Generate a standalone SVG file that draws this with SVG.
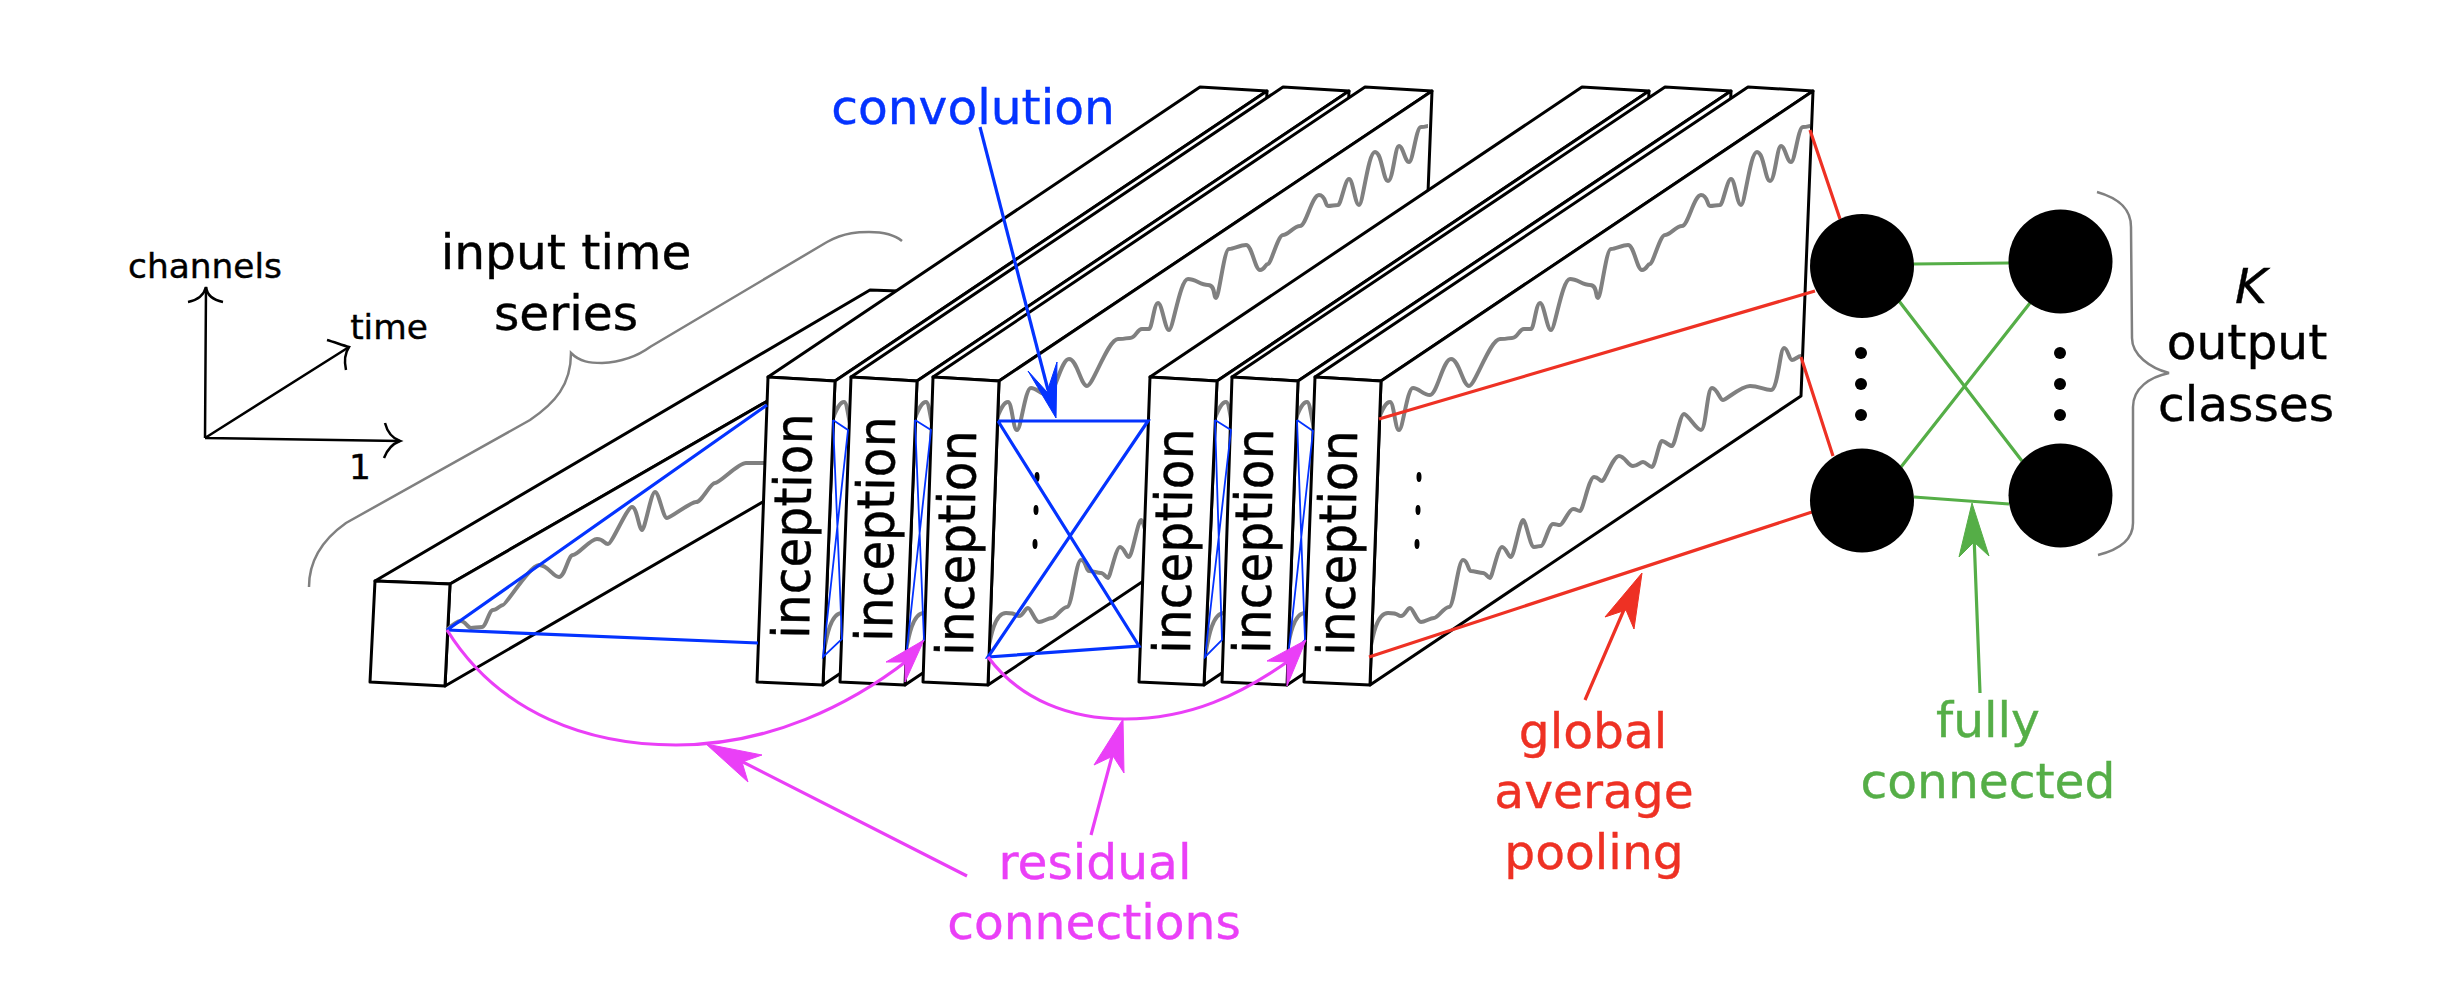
<svg xmlns="http://www.w3.org/2000/svg" width="2459" height="992" viewBox="0 0 2459 992">
<style>
text{font-family:"DejaVu Sans",sans-serif;font-size:48.700px;fill:#000;stroke:#000;stroke-width:.4;text-anchor:middle}
.ax{font-size:34.400px}
.st{text-anchor:start}
.b{fill:#fff;stroke:#000;stroke-width:3;stroke-linejoin:round}
.w{fill:none;stroke:#808080;stroke-width:4;stroke-linejoin:round}
.g{fill:none;stroke:#808080;stroke-width:2.500}
.k{fill:none;stroke:#000;stroke-width:2.500}
.blue{fill:none;stroke:#0433ff;stroke-width:3.200}
.blt{fill:none;stroke:#0433ff;stroke-width:1.800}
.red{fill:none;stroke:#ee3124;stroke-width:3.200}
.grn{fill:none;stroke:#55ae47;stroke-width:3.200}
.mag{fill:none;stroke:#ea3ff7;stroke-width:3.200}
.fb{fill:#0433ff;stroke:#0433ff}.fr{fill:#ee3124;stroke:#ee3124}.fg{fill:#55ae47;stroke:#55ae47}.fm{fill:#ea3ff7;stroke:#ea3ff7}
</style>
<defs>
<path id="top" class="w" d="M1379,418 C1383,408 1386,402 1390,402 S1395,430 1399,430 S1407,388 1413,388 S1423,395 1430,395 S1443,359 1451,359 S1463,386 1469,386 S1490,339 1500,339 S1506,338 1512,338 S1519,329 1524,329 S1528,329 1531,329 S1536,303 1540,303 S1547,330 1551,330 S1562,279 1570,279 S1582,285 1590,285 S1595,298 1598,298 S1606,249 1611,249 S1622,245 1628,245 S1637,270 1642,270 S1647,264 1650,264 S1660,235 1665,235 S1676,226 1682,226 S1694,195 1701,195 S1707,206 1710,206 S1717,205 1720,205 S1727,179 1731,179 S1737,205 1741,205 S1750,152 1757,152 S1765,181 1770,181 S1777,146 1781,146 S1787,162 1791,162 S1798,127 1803,127 S1808,126 1810,126"/>
<path id="low" class="w" d="M1369,656 C1372,640 1376,613 1388,613 S1397,616 1401,616 S1407,608 1410,608 S1417,622 1421,622 S1430,618 1434,618 S1444,607 1449,607 S1458,560 1463,560 S1468,571 1471,571 S1480,573 1483,573 S1488,578 1490,578 S1498,547 1502,547 S1508,557 1511,557 S1520,520 1523,520 S1530,547 1534,547 S1538,546 1541,546 S1549,524 1553,524 S1557,525 1560,525 S1569,509 1573,509 S1577,511 1580,511 S1589,477 1594,477 S1599,481 1602,481 S1613,456 1619,456 S1628,466 1633,466 S1640,462 1643,462 S1649,467 1652,467 S1659,441 1662,441 S1669,446 1672,446 S1680,414 1684,414 S1696,430 1701,430 S1707,388 1712,388 S1720,400 1723,400 S1741,386 1750,386 S1764,390 1771,390 S1780,348 1784,348 S1789,360 1792,360 S1798,356 1801,356"/>
</defs>

<g id="axes">
<path class="k" d="M205,438 L206,287 M205,438 L349,347 M205,438 L400,441"/>
<path class="k" d="M188,302 C198,300 204,295 206,287 C207,295 213,300 223,302"/>
<path class="k" d="M327,340 C334,342 342,345 349,347 C345,353 344,361 346,370"/>
<path class="k" d="M385,423 C387,431 392,438 400,441 C392,444 387,450 384,458"/>
<text class="ax" x="205" y="278">channels</text>
<text class="ax" x="389" y="339">time</text>
<text class="ax" x="360" y="479">1</text>
</g>

<g id="input-label">
<path class="g" d="M309,587 C309,560 322,540 346,523 L530,420 C555,403 571,385 571,353 C580,362 590,363 602,363 C620,362 635,358 650,347 L827,242 C845,232 860,232 869,232 C885,232 895,235 902,241"/>
<text x="566" y="269">input time</text>
<text x="566" y="330">series</text>
</g>

<g id="input">
<polygon class="b" points="375,581 870,290 955,293 450,584"/>
<polygon class="b" points="450,584 955,293 951,393 445,686"/>
<polygon class="b" points="375,581 450,584 445,686 370,682"/>
<path class="w" d="M447,630 C452,625 457,621 461,621 S468,628 471,628 S478,627 482,627 S489,610 493,610 S500,605 503,605 S530,565 539,565 S553,577 559,577 S568,555 573,555 S590,539 597,539 S604,544 608,544 S627,507 632,507 S639,530 642,530 S651,492 655,492 S663,518 667,518 S690,502 696,502 S710,483 715,483 S738,463 746,463 S758,463 764,463"/>
</g>

<g id="inception-1">
<polygon class="b" points="768,377 1200,87 1267,91 835,381"/>
<polygon class="b" points="835,381 1267,91 1255,395 823,685"/>
<use href="#top" x="-546"/><use href="#low" x="-546"/>
<polygon class="b" points="768,377 835,381 823,685 757,682"/>
<text transform="translate(809,639) rotate(-89.2) scale(1,1.060)" class="st">inception</text>
</g>
<g id="inception-2">
<polygon class="b" points="851,377 1283,87 1349,91 917,381"/>
<polygon class="b" points="917,381 1349,91 1337,395 905,685"/>
<use href="#top" x="-464"/><use href="#low" x="-464"/>
<polygon class="b" points="851,377 917,381 905,685 840,682"/>
<text transform="translate(892,642) rotate(-89.2) scale(1,1.060)" class="st">inception</text>
</g>
<g id="inception-3">
<polygon class="b" points="933,377 1365,87 1432,91 999,381"/>
<polygon class="b" points="999,381 1432,91 1420,396 988,685"/>
<use href="#top" x="-382"/><use href="#low" x="-382"/>
<polygon class="b" points="933,377 999,381 988,685 923,682"/>
<text transform="translate(973,656) rotate(-89.2) scale(1,1.060)" class="st">inception</text>
<ellipse cx="1037" cy="477" rx="2.500" ry="5"/><ellipse cx="1036" cy="510" rx="2.500" ry="5"/><ellipse cx="1035" cy="544" rx="2.500" ry="5"/>
</g>
<g id="inception-4">
<polygon class="b" points="1150,377 1582,87 1649,91 1217,381"/>
<polygon class="b" points="1217,381 1649,91 1637,396 1204,685"/>
<use href="#top" x="-164"/><use href="#low" x="-164"/>
<polygon class="b" points="1150,377 1217,381 1204,685 1139,682"/>
<text transform="translate(1190,654) rotate(-89.2) scale(1,1.060)" class="st">inception</text>
</g>
<g id="inception-5">
<polygon class="b" points="1232,377 1665,87 1731,91 1298,381"/>
<polygon class="b" points="1298,381 1731,91 1719,396 1287,685"/>
<use href="#top" x="-83"/><use href="#low" x="-83"/>
<polygon class="b" points="1232,377 1298,381 1287,685 1222,682"/>
<text transform="translate(1270,654) rotate(-89.2) scale(1,1.060)" class="st">inception</text>
</g>
<g id="inception-6">
<polygon class="b" points="1315,377 1748,87 1813,91 1381,381"/>
<polygon class="b" points="1381,381 1813,91 1801,396 1370,685"/>
<use href="#top"/><use href="#low"/>
<polygon class="b" points="1315,377 1381,381 1370,685 1304,682"/>
<text transform="translate(1354,656) rotate(-89.2) scale(1,1.060)" class="st">inception</text>
<ellipse cx="1419" cy="477" rx="2.500" ry="5"/><ellipse cx="1418" cy="510" rx="2.500" ry="5"/><ellipse cx="1417" cy="544" rx="2.500" ry="5"/>
</g>

<g id="connectors">
<path class="blue" d="M447,630 L767,405 M447,630 L758,643"/>
<path class="blt" d="M833,420 L848,430 L823,657 L842,639 L833,420"/>
<path class="blt" d="M915,420 L931,430 L906,657 L924,640 L915,420"/>
<path class="blue" d="M998,421 L1148,421 L988,657 L1139,646 L998,421"/>
<path class="blt" d="M1215,420 L1231,430 L1205,657 L1222,640 L1215,420"/>
<path class="blt" d="M1297,420 L1313,431 L1288,657 L1305,640 L1297,420"/>
<path class="blue" d="M980,127 L1048,390"/>
<polygon class="fb" points="1056,418 1028,371 1047,392 1057,362"/>
<path class="red" d="M1810,130 L1840,219 M1801,357 L1833,456 M1379,419 L1815,291 M1369,657 L1812,512 M1585,700 L1626,605"/>
<polygon class="fr" points="1642,573 1605,617 1626,610 1634,629"/>
<path class="grn" d="M1913,264 L2009,263 M1899,301 L2022,461 M2030,303 L1901,467 M1914,497 L2009,504 M1980,693 L1974,535"/>
<polygon class="fg" points="1972,503 1959,557 1974,542 1989,556"/>
<path class="mag" d="M447,630 C500,715 590,745 676,745 C770,745 850,705 908,660"/>
<polygon class="fm" points="924,640 886,662 905,662 905,682"/>
<path class="mag" d="M988,657 C1020,700 1070,719 1125,719 C 1190,719 1240,695 1290,660"/>
<polygon class="fm" points="1306,640 1267,661 1287,662 1287,686"/>
<path class="mag" d="M967,876 L735,758 M1091,835 L1115,745"/>
<polygon class="fm" points="706,744 762,755 742,762 748,782"/>
<polygon class="fm" points="1123,719 1094,765 1113,756 1124,773"/>
</g>

<g id="node-a"><circle cx="1862" cy="266" r="52"/></g>
<g id="node-b"><circle cx="1862" cy="500.500" r="52"/></g>
<g id="node-c"><circle cx="2060.500" cy="261.500" r="52"/></g>
<g id="node-d"><circle cx="2060.500" cy="495.500" r="52"/></g>
<g id="dots">
<circle cx="1861" cy="353" r="6"/><circle cx="1861" cy="384" r="6"/><circle cx="1861" cy="415" r="6"/>
<circle cx="2060" cy="353" r="6"/><circle cx="2060" cy="384" r="6"/><circle cx="2060" cy="415" r="6"/>
</g>

<g id="output-label">
<path class="g" d="M2097,192 C2118,198 2131,208 2131,227 L2132,338 C2132,355 2150,368 2169,373 C2150,377 2133,388 2133,407 L2133,523 C2133,540 2118,550 2098,555"/>
<text x="2251" y="303" font-style="italic">K</text>
<text x="2247" y="359">output</text>
<text x="2246" y="421">classes</text>
</g>

<g id="labels">
<text x="973" y="124" class="fb">convolution</text>
<text x="1095" y="879" class="fm">residual</text>
<text x="1094" y="939" class="fm">connections</text>
<text x="1593" y="748" class="fr">global</text>
<text x="1594" y="808" class="fr">average</text>
<text x="1594" y="869" class="fr">pooling</text>
<text x="1988" y="737" class="fg">fully</text>
<text x="1988" y="798" class="fg">connected</text>
</g>
</svg>
